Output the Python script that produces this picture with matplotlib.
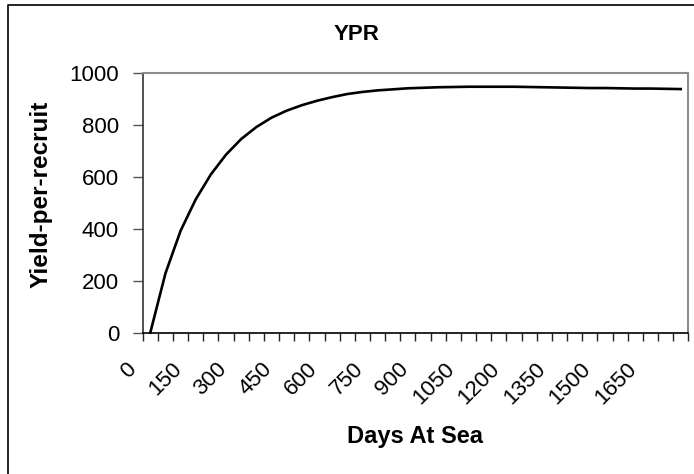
import matplotlib
matplotlib.use("Agg")
import matplotlib.pyplot as plt
from matplotlib.transforms import ScaledTranslation
from matplotlib.lines import Line2D
import numpy as np

plt.rcParams['font.family'] = ['Liberation Sans', 'DejaVu Sans']

# Data
days = list(range(0, 1800, 50))  # 36 categories: 0..1750
ypr = [0, 228, 392, 513, 609, 685, 745, 791, 827, 854, 875, 892, 906, 918,
       926, 932, 936, 940, 942, 944, 945, 946, 946, 946, 946, 945, 944, 943,
       942, 941, 941, 940, 939, 939, 938, 937]
label_every = 3
y_ticks = [0, 200, 400, 600, 800, 1000]

title = "YPR"
xlabel = "Days At Sea"
ylabel = "Yield-per-recruit"

W, H = 694, 474
fig = plt.figure(figsize=(W / 100, H / 100), dpi=100)
fig.patch.set_facecolor('white')

# axes placement (pixels -> fraction)
left_px, right_px, top_px, bottom_px = 142.7, 688.3, 72.7, 332.7
ax = fig.add_axes([left_px / W, 1 - bottom_px / H,
                   (right_px - left_px) / W, (bottom_px - top_px) / H])

x = np.arange(len(days))
ax.plot(x, ypr, color='black', lw=1.9, solid_joinstyle='round', clip_on=False)

ax.set_xlim(-0.5, len(days) - 0.5)
ax.set_ylim(0, 1000)

# y axis
ax.set_yticks(y_ticks)
ax.set_yticklabels([str(v) for v in y_ticks], fontsize=16)
ax.tick_params(axis='y', direction='out', length=7, width=1, color='#555555', pad=10)

# x axis: tick marks at category boundaries, labels at category centres
ax.set_xticks(np.arange(-0.5, len(days), 1.0), minor=True)
ax.tick_params(axis='x', which='minor', direction='out', length=5.5, width=1, color='#222222')
major_idx = list(range(0, len(days), label_every))
ax.set_xticks(major_idx)
ax.set_xticklabels([str(days[i]) for i in major_idx], fontsize=16,
                   rotation=45, ha='right', va='top')
ax.tick_params(axis='x', which='major', length=0, pad=0)
offset = ScaledTranslation(-10 / 100, -26 / 100, fig.dpi_scale_trans)
for lab in ax.get_xticklabels():
    lab.set_transform(lab.get_transform() + offset)

# spines
for s in ['top', 'right']:
    ax.spines[s].set_color('#8c8c8c')
    ax.spines[s].set_linewidth(1.5)
ax.spines['left'].set_color('#333333')
ax.spines['left'].set_linewidth(1.2)
ax.spines['bottom'].set_color('black')
ax.spines['bottom'].set_linewidth(1.2)

# texts
fig.text(357 / W, 1 - 34 / H, title, ha='center', va='center',
         fontsize=16, fontweight='bold')
fig.text(415 / W, 1 - 437 / H, xlabel, ha='center', va='center',
         fontsize=17, fontweight='bold')
fig.text(41 / W, 1 - 194 / H, ylabel, ha='center', va='center',
         rotation=90, fontsize=17.5, fontweight='bold')

# outer chart-area frame (left and top edges visible)
fig.add_artist(Line2D([8 / W, 8 / W, 1.0], [0.0, 1 - 5 / H, 1 - 5 / H],
                      transform=fig.transFigure, color='black', lw=1.2))

fig.savefig('out.png', dpi=100, facecolor='white')
